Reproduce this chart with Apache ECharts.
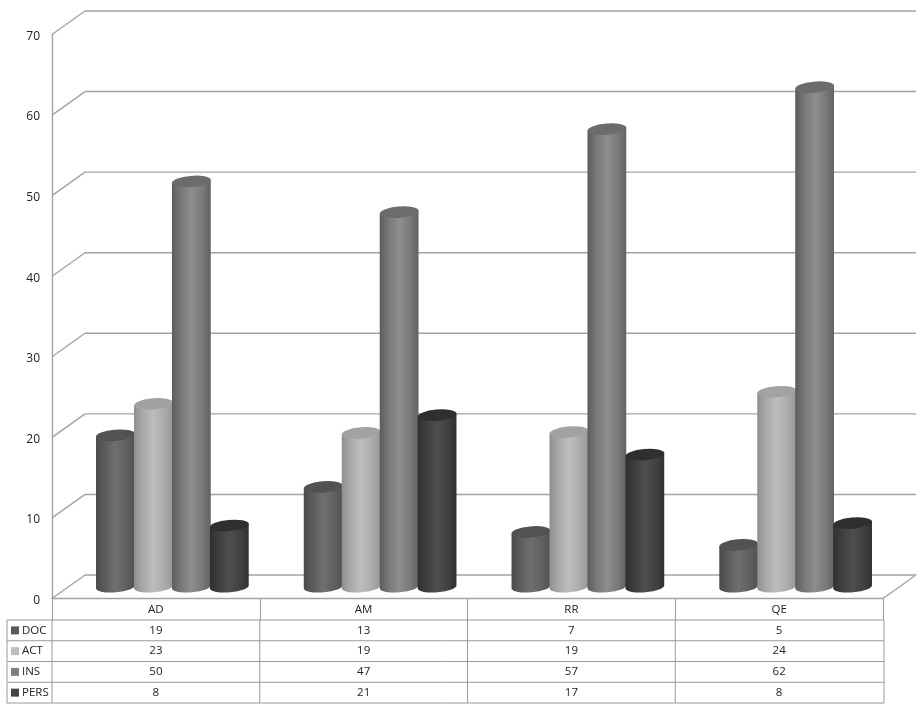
<!DOCTYPE html>
<html><head><meta charset="utf-8">
<style>html,body{margin:0;padding:0;background:#fff}#c{width:920px;height:712px}</style>
<script src="https://cdn.jsdelivr.net/npm/echarts@6/dist/echarts.min.js"></script>
</head><body><div id="c"></div>
<script>
const categories = ['AD','AM','RR','QE'];
const seriesNames = ['DOC','ACT','INS','PERS'];
// printed in the data table
const DOC  = [19,13,7,5];
const ACT  = [23,19,19,24];
const INS  = [50,47,57,62];
const PERS = [8,21,17,8];
// bar heights (the table prints them rounded)
const DOC_BAR  = [18.8,12.4,6.8,5.2];
const ACT_BAR  = [22.7,19.1,19.2,24.2];
const INS_BAR  = [50.3,46.5,56.8,62];
const PERS_BAR = [7.6,21.3,16.4,7.9];
const yTicks = [0,10,20,30,40,50,60,70];

const tableValues = [DOC,ACT,INS,PERS];
const barValues = [DOC_BAR,ACT_BAR,INS_BAR,PERS_BAR];
const FONT = '"Open Sans", "Noto Sans", sans-serif';
const DX = 33, DY = -23.5;           // depth of the 3D box
const LINE = '#a3a3a3', TABLE = '#9a9a9a';
const styles = [
  {edgeL:'#4a4a4a',near:'#5a5a5a',mid:'#6f6f6f',nearR:'#5f5f5f',edgeR:'#515151',top:'#525252',key:'#5a5a5a'},
  {edgeL:'#8e8e8e',near:'#a6a6a6',mid:'#bdbdbd',nearR:'#aaaaaa',edgeR:'#979797',top:'#a2a2a2',key:'#bdbdbd'},
  {edgeL:'#5c5c5c',near:'#757575',mid:'#8e8e8e',nearR:'#787878',edgeR:'#626262',top:'#6c6c6c',key:'#808080'},
  {edgeL:'#2f2f2f',near:'#3d3d3d',mid:'#4e4e4e',nearR:'#404040',edgeR:'#313131',top:'#2f2f2f',key:'#434343'}
];
const RY = 5.6, TILT = 1.8, ROT = -5;

function cylinderSeries(k){
  return {
    type:'custom', name:seriesNames[k], coordinateSystem:'cartesian2d', clip:false, z:5+k,
    data:categories.map((c,i)=>[i,barValues[k][i]]),
    encode:{x:0,y:1},
    renderItem(params,api){
      const i=api.value(0), v=api.value(1);
      const top=api.coord([i,v]), base=api.coord([i,0]);
      const band=api.size([1,0])[0];
      const pitch=band*0.1828, barW=pitch+0.8;
      const cx=base[0]+DX/2+(k-1.5)*pitch;
      const yB=base[1]+DY/2, yT=top[1]+DY/2;
      const rx=barW/2;
      const xl=cx-rx, xr=cx+rx;
      const body=`M ${xl} ${yT+TILT} L ${xl} ${yB+TILT} A ${rx} ${RY} ${ROT} 1 0 ${xr} ${yB-TILT} L ${xr} ${yT-TILT} Z`;
      const cap=`M ${xl} ${yT+TILT} A ${rx} ${RY} ${ROT} 1 1 ${xr} ${yT-TILT} A ${rx} ${RY} ${ROT} 1 1 ${xl} ${yT+TILT} Z`;
      const s=styles[k];
      const grad={type:'linear',x:0,y:0,x2:1,y2:0,colorStops:[
        {offset:0,color:s.edgeL},{offset:0.2,color:s.near},{offset:0.5,color:s.mid},
        {offset:0.8,color:s.nearR},{offset:1,color:s.edgeR}]};
      return {type:'group',children:[
        {type:'path',shape:{pathData:body},style:{fill:grad}},
        {type:'path',shape:{pathData:cap},style:{fill:s.top}}
      ]};
    }
  };
}

const wallSeries = {
  type:'custom', name:'walls', coordinateSystem:'cartesian2d', clip:false, z:1, silent:true,
  data:yTicks.map(v=>[0,v]), encode:{x:0,y:1},
  tooltip:{show:false},
  renderItem(params,api){
    const v=api.value(1);
    const p=api.coord([0,v]);
    const band=api.size([1,0])[0];
    const xL=p[0]-band/2, xR=p[0]+band*3.5;
    const lineStyle={stroke:LINE,lineWidth:1.4,fill:null};
    const kids=[
      {type:'line',shape:{x1:xL,y1:p[1],x2:xL+DX,y2:p[1]+DY},style:lineStyle},
      {type:'line',shape:{x1:xL+DX,y1:p[1]+DY,x2:xR+DX,y2:p[1]+DY},style:lineStyle}
    ];
    if(v===0) kids.push({type:'line',shape:{x1:xR,y1:p[1],x2:xR+DX,y2:p[1]+DY},style:lineStyle});
    return {type:'group',children:kids};
  }
};

const ROW_H = 20.75, TABLE_TOP = 21.5, TABLE_LEFT = 7;
const tableSeries = {
  type:'custom', name:'table', coordinateSystem:'cartesian2d', clip:false, z:10, silent:true,
  data:seriesNames.map((n,r)=>[0,0,r]), encode:{x:0,y:1},
  tooltip:{show:false},
  renderItem(params,api){
    const r=params.dataIndex;
    const o=api.coord([0,0]);
    const band=api.size([1,0])[0];
    const x0=o[0]-band/2, xEnd=x0+band*4+1;
    const y=o[1]+TABLE_TOP+r*ROW_H, yc=y+ROW_H/2;
    const st={stroke:TABLE,lineWidth:1,fill:null};
    const kids=[
      {type:'line',shape:{x1:TABLE_LEFT,y1:y,x2:xEnd,y2:y},style:st},
      {type:'line',shape:{x1:TABLE_LEFT,y1:y,x2:TABLE_LEFT,y2:y+ROW_H},style:st},
      {type:'rect',shape:{x:TABLE_LEFT+4,y:yc-4,width:8,height:8},style:{fill:styles[r].key}},
      {type:'text',style:{x:TABLE_LEFT+15,y:yc,text:seriesNames[r],fill:'#222',font:'11.5px '+FONT,verticalAlign:'middle',align:'left'}}
    ];
    for(let c=0;c<=4;c++){
      const xx=x0+c*band+(c===4?1:0);
      kids.push({type:'line',shape:{x1:xx,y1:y,x2:xx,y2:y+ROW_H},style:st});
    }
    categories.forEach((cat,c)=>{
      kids.push({type:'text',style:{x:api.coord([c,0])[0],y:yc,text:String(tableValues[r][c]),fill:'#222',font:'11.5px '+FONT,align:'center',verticalAlign:'middle'}});
    });
    if(r===seriesNames.length-1) kids.push({type:'line',shape:{x1:TABLE_LEFT,y1:y+ROW_H,x2:xEnd,y2:y+ROW_H},style:st});
    return {type:'group',children:kids};
  }
};

const chart = echarts.init(document.getElementById('c'),null,{renderer:'canvas'});
chart.setOption({
  animation:false,
  backgroundColor:'#fff',
  grid:{left:52,right:37,top:34.5,bottom:113.5,containLabel:false},
  xAxis:{type:'category',data:categories,boundaryGap:true,
    axisLine:{show:true,lineStyle:{color:LINE,width:1.4}},
    axisTick:{show:true,length:21.5,lineStyle:{color:TABLE,width:1},alignWithLabel:false},
    axisLabel:{show:true,margin:5,color:'#222',fontFamily:FONT,fontSize:11.5},
    splitLine:{show:false}},
  yAxis:{type:'value',min:0,max:70,interval:10,
    axisLine:{show:true,lineStyle:{color:LINE,width:1.4}},
    axisTick:{show:false},
    axisLabel:{show:true,margin:12,formatter:'{t|{value}}',
      rich:{t:{color:'#222',fontFamily:FONT,fontSize:12,lineHeight:14,padding:[4,0,0,0]}}},
    splitLine:{show:false}},
  legend:{show:false},
  series:[wallSeries,...seriesNames.map((n,k)=>cylinderSeries(k)),tableSeries]
});
</script></body></html>
